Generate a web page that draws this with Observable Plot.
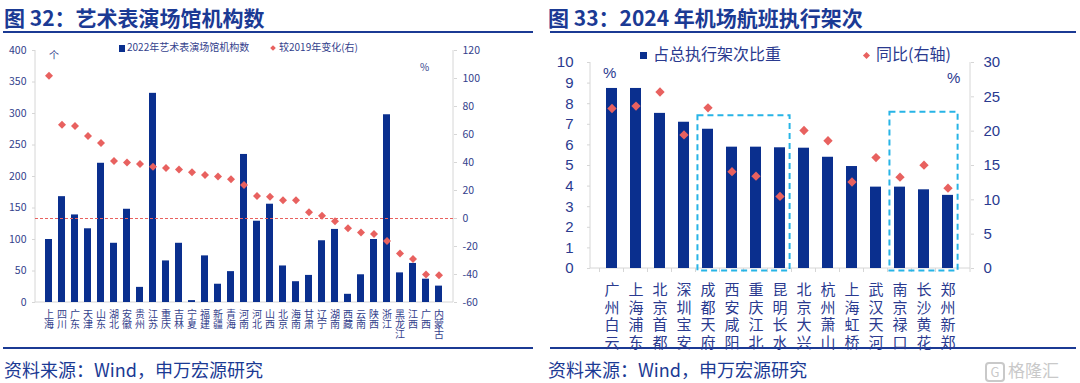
<!DOCTYPE html>
<html><head><meta charset="utf-8">
<script src="https://cdn.jsdelivr.net/npm/d3@7"></script>
<script src="https://cdn.jsdelivr.net/npm/@observablehq/plot@0.6"></script>
<style>
body{margin:0;background:#fff;width:1080px;height:383px;overflow:hidden;font-family:"Noto Sans CJK SC",sans-serif;}
#root{position:relative;width:1080px;height:383px;}
.title{position:absolute;top:4px;font-size:21px;font-weight:bold;color:#1b3a94;white-space:nowrap;line-height:26px;}
.rule{position:absolute;height:2px;background:#1b3a94;}
.src{position:absolute;top:358px;font-size:18px;color:#1b3a94;line-height:22px;white-space:nowrap;}
.chart{position:absolute;top:35px;}
.lab{position:absolute;white-space:nowrap;color:#33418c;}
.sq{display:inline-block;background:#0a2f8e;vertical-align:middle;}
.dm{display:inline-block;background:#e8615f;transform:rotate(45deg);vertical-align:middle;}
</style></head><body><div id="root">
<div class="title" style="left:4px">图 32：艺术表演场馆机构数</div>
<div class="title" style="left:548px">图 33：2024 年机场航班执行架次</div>
<div class="rule" style="left:3px;width:530px;top:31px"></div>
<div class="rule" style="left:550px;width:526px;top:31px"></div>
<div class="rule" style="left:3px;width:530px;top:347px"></div>
<div class="rule" style="left:550px;width:526px;top:347px"></div>
<div class="src" style="left:4px">资料来源：Wind，申万宏源研究</div>
<div class="src" style="left:548px">资料来源：Wind，申万宏源研究</div>
<div id="left" class="chart" style="left:0px"></div>
<div id="right" class="chart" style="left:545px"></div>
<div class="lab" style="left:119px;top:40px;font-size:10px;line-height:14px"><span class="sq" style="width:6px;height:7px;margin-right:2px"></span>2022年艺术表演场馆机构数</div>
<div class="lab" style="left:271px;top:40px;font-size:10px;line-height:14px"><span class="dm" style="width:4px;height:4px;margin-right:4px"></span>较2019年变化(右)</div>
<div class="lab" style="left:49px;top:48px;font-size:10px;line-height:14px">个</div>
<div class="lab" style="left:420px;top:60px;font-size:10px;line-height:14px">%</div>
<div class="lab" style="left:640px;top:42px;font-size:16px;line-height:22px;color:#2a3a8f"><span class="sq" style="width:7px;height:7px;margin-right:6px"></span>占总执行架次比重</div>
<div class="lab" style="left:864px;top:42px;font-size:16px;line-height:22px;color:#2a3a8f"><span class="dm" style="width:5px;height:5px;margin-right:7px"></span>同比(右轴)</div>
<div class="lab" style="left:603px;top:64px;font-size:15px;line-height:18px;color:#2a3a8f;font-family:'Liberation Sans',sans-serif">%</div>
<div class="lab" style="left:947px;top:69px;font-size:15px;line-height:18px;color:#2a3a8f;font-family:'Liberation Sans',sans-serif">%</div>
<div class="lab" style="left:985px;top:359px;font-size:17px;line-height:22px;color:#c9c9c9"><span style="display:inline-block;border:2px solid #c9c9c9;border-radius:4px;width:16px;height:16px;line-height:16px;text-align:center;font-size:13px;margin-right:3px;vertical-align:middle">G</span>格隆汇</div>
</div>
<script>
// ---------- data: left chart ----------
const provinces = ["上海","四川","广东","天津","山东","湖北","安徽","贵州","江苏","重庆","吉林","宁夏","福建","新疆","青海","河南","河北","山西","北京","海南","甘肃","辽宁","湖南","西藏","云南","陕西","浙江","黑龙江","江西","广西","内蒙古"];
const venues2022 = [100,168,139,117,221,94,148,24,332,66,94,3,74,29,49,235,129,156,58,33,43,98,116,13,44,100,298,47,62,37,26];
const change2019 = [102,67,66,59,54,41,40,39,37,36,35,33,31,30,28,24,16,15.5,13,13,4.5,2,-2,-7,-10,-11,-16,-25,-29,-40,-40.5];
const venueTicks = [0,50,100,150,200,250,300,350,400];
const changeTicks = [-60,-40,-20,0,20,40,60,80,100,120];

// ---------- data: right chart ----------
const airports = ["广州白云","上海浦东","北京首都","深圳宝安","成都天府","西安咸阳","重庆江北","昆明长水","北京大兴","杭州萧山","上海虹桥","武汉天河","南京禄口","长沙黄花","郑州新郑"];
const shareOfFlights = [8.74,8.74,7.53,7.10,6.76,5.89,5.89,5.86,5.84,5.40,4.95,3.95,3.95,3.82,3.55];
const yoyGrowth = [23.3,23.65,25.7,19.45,23.4,14.1,13.45,10.5,20.1,18.6,12.6,16.15,13.3,15.05,11.7];
const shareTicks = [0,1,2,3,4,5,6,7,8,9,10];
const yoyTicks = [0,5,10,15,20,25,30];
const highlightGroups = [{from:"成都天府", to:"昆明长水", top:7.42}, {from:"南京禄口", to:"郑州新郑", top:7.58}];

const NAVY = "#0a2f8e", RED = "#e8615f", AXIS = "#d6d6d6";

// ---------- left chart ----------
const leftRows = provinces.map((p, i) => ({province: p, venues: venues2022[i], change: change2019[i]}));
const provinceChars = provinces.flatMap(p => [...p].map((ch, k) => ({province: p, ch, k})));
const toLeft = v => (v + 60) * 400 / 180;
const fromLeft = v => Math.round(v * 180 / 400 - 60);

function frameLines(padding, bottomTicks) {
  return (index, scales, values, dims) => {
    const {width, height, marginLeft: ml, marginRight: mr, marginTop: mt, marginBottom: mb} = dims;
    const g = d3.create("svg:g").attr("stroke", AXIS).attr("fill", "none");
    const x0 = ml, x1 = width - mr, yb = height - mb;
    g.append("line").attr("x1", x0).attr("x2", x0).attr("y1", mt).attr("y2", yb);
    g.append("line").attr("x1", x1).attr("x2", x1).attr("y1", mt).attr("y2", yb);
    g.append("line").attr("x1", x0).attr("x2", x1).attr("y1", yb).attr("y2", yb);
    if (bottomTicks) {
      const step = scales.x(bottomTicks[1]) - scales.x(bottomTicks[0]);
      bottomTicks.forEach(c => {
        const bx = scales.x(c) - padding * step / 2;
        g.append("line").attr("x1", bx).attr("x2", bx).attr("y1", yb).attr("y2", yb + 4);
      });
      g.append("line").attr("x1", x1).attr("x2", x1).attr("y1", yb).attr("y2", yb + 4);
    }
    return g.node();
  };
}

const L_PAD = 0.45;
const leftChart = Plot.plot({
  width: 540, height: 315, marginTop: 15, marginBottom: 48, marginLeft: 35, marginRight: 87,
  style: {fontFamily: '"Noto Sans CJK SC", sans-serif', fontSize: "10px", color: "#33418c", background: "transparent", overflow: "visible"},
  x: {type: "band", domain: provinces, padding: L_PAD, label: null, axis: null},
  y: {domain: [0, 400], label: null},
  marks: [
    frameLines(L_PAD, null),
    Plot.barY(leftRows, {x: "province", y: "venues", fill: NAVY}),
    Plot.ruleY([toLeft(0)], {stroke: RED, strokeDasharray: "3,2", strokeWidth: 1}),
    Plot.dot(leftRows, {x: "province", y: d => toLeft(d.change), symbol: "diamond2", r: 3.6, fill: RED}),
    Plot.axisY({ticks: venueTicks, anchor: "left", tickSize: 3, tickPadding: 6, stroke: AXIS, fill: "#33418c", fontSize: 10.5, label: null}),
    Plot.axisY({ticks: changeTicks.map(toLeft), anchor: "right", tickSize: 3, tickPadding: 6, stroke: AXIS, fill: "#33418c", fontSize: 10.5, tickFormat: fromLeft, label: null}),
    ...[0, 1, 2].map(k => Plot.text(provinceChars.filter(d => d.k === k), {x: "province", text: "ch", frameAnchor: "bottom", dy: 15 + k * 10.3, fontSize: 10, fill: "#33418c"}))
  ]
});
document.getElementById("left").appendChild(leftChart);

// ---------- right chart ----------
const rightRows = airports.map((a, i) => ({airport: a, share: shareOfFlights[i], yoy: yoyGrowth[i]}));
const toShare = v => v / 3;
const fromShare = v => Math.round(v * 3);
const R_PAD = 0.54;

function highlightBoxes(index, scales, values, dims) {
  const g = d3.create("svg:g").attr("fill", "none").attr("stroke", "#27b4e6").attr("stroke-width", 2).attr("stroke-dasharray", "6,4");
  const step = scales.x(airports[1]) - scales.x(airports[0]);
  const bw = step * (1 - R_PAD);
  const yb = dims.height - dims.marginBottom;
  highlightGroups.forEach(h => {
    const xa = scales.x(h.from) + bw / 2 - 0.42 * step;
    const xb = scales.x(h.to) + bw / 2 + 0.42 * step;
    const yt = scales.y(h.top);
    g.append("rect").attr("x", xa).attr("y", yt).attr("width", xb - xa).attr("height", yb + 2.5 - yt);
  });
  return g.node();
}

const rightChart = Plot.plot({
  width: 535, height: 315, marginTop: 27, marginBottom: 82, marginLeft: 45, marginRight: 110,
  style: {fontFamily: '"Liberation Sans", Arial, sans-serif', fontSize: "15px", color: "#2a3a8f", background: "transparent", overflow: "visible"},
  x: {type: "band", domain: airports, padding: R_PAD, label: null},
  y: {domain: [0, 10], label: null},
  marks: [
    frameLines(R_PAD, airports),
    Plot.barY(rightRows, {x: "airport", y: "share", fill: NAVY}),
    Plot.dot(rightRows, {x: "airport", y: d => toShare(d.yoy), symbol: "diamond2", r: 4.2, fill: RED}),
    highlightBoxes,
    Plot.axisY({ticks: shareTicks, anchor: "left", tickSize: 3, tickPadding: 14, stroke: AXIS, fill: "#2a3a8f", fontSize: 15, label: null}),
    Plot.axisY({ticks: yoyTicks.map(toShare), anchor: "right", tickSize: 3, tickPadding: 10, stroke: AXIS, fill: "#2a3a8f", fontSize: 15, tickFormat: fromShare, label: null}),
    Plot.axisX({anchor: "bottom", tickSize: 0, tickPadding: 14, tickFormat: d => [...d].join("\n"), lineHeight: 1.17, fontSize: 15, fill: "#2a3a8f", fontFamily: '"Noto Sans CJK SC", sans-serif', label: null})
  ]
});
document.getElementById("right").appendChild(rightChart);
</script>
</body></html>
